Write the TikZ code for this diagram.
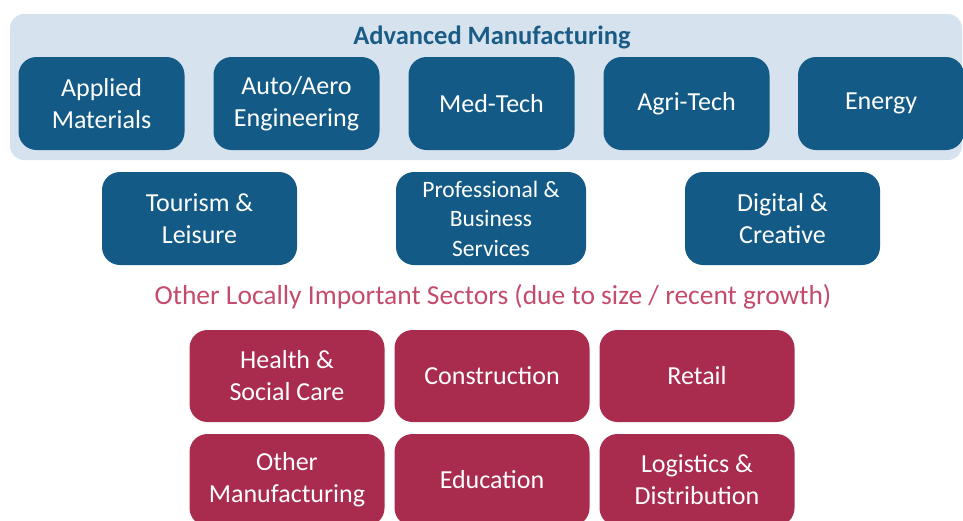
\documentclass[tikz,border=0pt]{standalone}
\usepackage{fontspec}
\setmainfont{Carlito}
\usepackage{xcolor}
\usetikzlibrary{positioning}

\definecolor{sectorblue}{HTML}{135B86}
\definecolor{panelblue}{HTML}{D6E3EF}
\definecolor{titleblue}{HTML}{1A5C86}
\definecolor{sectorred}{HTML}{A92C4F}
\definecolor{titlered}{HTML}{C54B6B}

\tikzset{
	sector/.style = {rounded corners = 18pt, inner sep = 0pt, align = center, text = white,
		font = \fontsize{26}{32}\selectfont},
	bluesector/.style = {sector, fill = sectorblue, minimum width = 166pt, minimum height = 93pt},
	redsector/.style = {sector, fill = sectorred, minimum width = 195pt, minimum height = 92pt}
}

\begin{document}
\begin{tikzpicture}[x = 1pt, y = -1pt]
		%frame of the picture
		\useasboundingbox (0,0) rectangle (963,520);
		\clip (0,0) rectangle (963,520);
		
		%variables
		\def\rowA{103.5};
		\def\rowB{218.5};
		\def\rowC{376};
		\def\rowD{480};
		
		%advanced manufacturing panel
		\fill [panelblue, rounded corners = 14pt] (10,14) rectangle (962,160);
		\node (advanced title) at (492,37) [text = titleblue, font = \fontsize{26.5}{30}\selectfont\bfseries] {Advanced Manufacturing};
		
		\node (applied) at (101.5,\rowA) [bluesector] {Applied\\Materials};
		\node (auto aero) at (296.5,\rowA) [bluesector] {Auto/Aero\\Engineering};
		\node (med tech) at (491.5,\rowA) [bluesector] {Med-Tech};
		\node (agri tech) at (686.5,\rowA) [bluesector] {Agri-Tech};
		\node (energy) at (881,\rowA) [bluesector] {Energy};
		
		%second row of key sectors
		\node (tourism) at (199.5,\rowB) [bluesector, minimum width = 195pt] {Tourism \&\\Leisure};
		\node (professional) at (491,\rowB) [bluesector, minimum width = 190pt,
			font = \fontsize{23.5}{29.5}\selectfont] {Professional \&\\Business\\Services};
		\node (digital) at (782.5,\rowB) [bluesector, minimum width = 195pt] {Digital \&\\Creative};
		
		%other sectors
		\node (other title) at (493,297) [text = titlered, font = \fontsize{27.5}{30}\selectfont]
			{Other Locally Important Sectors (due to size / recent growth)};
		
		\node (health) at (287,\rowC) [redsector] {Health \&\\Social Care};
		\node (construction) at (492,\rowC) [redsector] {Construction};
		\node (retail) at (697,\rowC) [redsector] {Retail};
		
		\node (other manufacturing) at (287,\rowD) [redsector] {Other\\Manufacturing};
		\node (education) at (492,\rowD) [redsector] {Education};
		\node (logistics) at (697,\rowD) [redsector] {Logistics \&\\Distribution};
	\end{tikzpicture}
\end{document}
